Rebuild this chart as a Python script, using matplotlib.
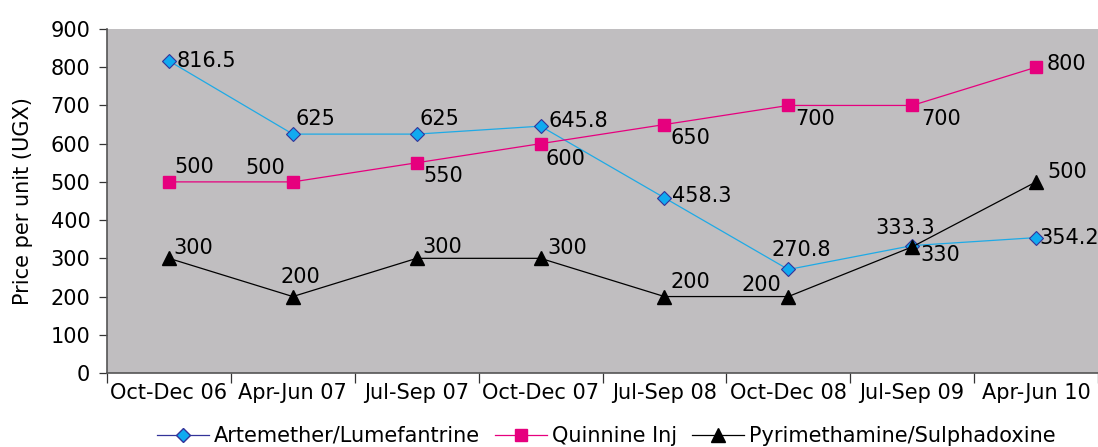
import matplotlib
matplotlib.use("Agg")
import matplotlib.pyplot as plt
from matplotlib.lines import Line2D

# data
periods = ["Oct-Dec 06", "Apr-Jun 07", "Jul-Sep 07", "Oct-Dec 07",
           "Jul-Sep 08", "Oct-Dec 08", "Jul-Sep 09", "Apr-Jun 10"]
artemether = [816.5, 625, 625, 645.8, 458.3, 270.8, 333.3, 354.2]
quinine = [500, 500, 550, 600, 650, 700, 700, 800]
pyrimethamine = [300, 200, 300, 300, 200, 200, 330, 500]

art_labels = ["816.5", "625", "625", "645.8", "458.3", "270.8", "333.3", "354.2"]
qui_labels = ["500", "500", "550", "600", "650", "700", "700", "800"]
pyr_labels = ["300", "200", "300", "300", "200", "200", "330", "500"]

# label placement: (dx px, dy px, ha, va)
art_pos = [(8, 0, "left", "center"), (3, 5, "left", "bottom"), (3, 5, "left", "bottom"),
           (8, 5, "left", "center"), (8, 2, "left", "center"), (13, 9, "center", "bottom"),
           (-7, 8, "center", "bottom"), (3, 0, "left", "center")]
qui_pos = [(5, 5, "left", "bottom"), (-8, 4, "right", "bottom"), (7, -3, "left", "top"),
           (5, -5, "left", "top"), (6, -3, "left", "top"), (7, -4, "left", "top"),
           (9, -4, "left", "top"), (11, 3, "left", "center")]
pyr_pos = [(4, 0, "left", "bottom"), (8, 10, "center", "bottom"), (6, 1, "left", "bottom"),
           (7, 0, "left", "bottom"), (6, 5, "left", "bottom"), (-7, 2, "right", "bottom"),
           (8, 2, "left", "top"), (11, 0, "left", "bottom")]

BLUE = "#1EAAE6"
BLUE_FILL = "#10AAF0"
NAVY = "#333399"
PINK = "#E6007E"
BG = "#C0BEC0"

plt.rcParams["font.family"] = ["DejaVu Sans"]
FS = 15

fig = plt.figure(figsize=(10.98, 4.47), dpi=100)
ax = fig.add_axes([107 / 1098, 1 - 373 / 447, 1 - 107 / 1098, 344 / 447])
ax.set_facecolor(BG)

x = list(range(len(periods)))
ax.plot(x, artemether, color=BLUE, lw=0.9, marker="D", ms=7.5,
        mfc=BLUE_FILL, mec=NAVY, mew=0.8, zorder=3)
ax.plot(x, quinine, color=PINK, lw=0.9, marker="s", ms=8.5,
        mfc=PINK, mec=PINK, zorder=3)
ax.plot(x, pyrimethamine, color="black", lw=0.9, marker="^", ms=10,
        mfc="black", mec="black", zorder=4)

for vals, labels, pos in [(artemether, art_labels, art_pos),
                          (quinine, qui_labels, qui_pos),
                          (pyrimethamine, pyr_labels, pyr_pos)]:
    for i, (v, lab, p) in enumerate(zip(vals, labels, pos)):
        dx, dy, ha, va = p
        ax.annotate(lab, (i, v), xytext=(dx * 0.72, dy * 0.72),
                    textcoords="offset points", ha=ha, va=va,
                    fontsize=FS, color="black", zorder=5)

ax.set_xlim(-0.5, len(periods) - 0.5)
ax.set_ylim(0, 900)
ax.set_yticks(range(0, 901, 100))
ax.set_xticks(x)
ax.set_xticklabels(periods)
ax.set_xticks([i - 0.5 for i in range(len(periods) + 1)], minor=True)
ax.tick_params(axis="x", which="major", length=0, pad=7, labelsize=FS)
ax.tick_params(axis="x", which="minor", length=7, width=0.9, color="#333333")
ax.tick_params(axis="y", length=6, width=0.9, color="#333333", pad=6, labelsize=FS)

for s in ["top", "right"]:
    ax.spines[s].set_visible(False)
for s in ["left", "bottom"]:
    ax.spines[s].set_color("#555555")
    ax.spines[s].set_linewidth(1.2)

ax.set_ylabel("Price per unit (UGX)", fontsize=FS)
ax.yaxis.set_label_coords(-0.075, 0.5)

handles = [
    Line2D([], [], color=NAVY, lw=0.9, marker="D", ms=7.5, mfc=BLUE_FILL, mec=NAVY),
    Line2D([], [], color=PINK, lw=0.9, marker="s", ms=8.5, mfc=PINK, mec=PINK),
    Line2D([], [], color="black", lw=0.9, marker="^", ms=10, mfc="black", mec="black"),
]
fig.legend(handles, ["Artemether/Lumefantrine", "Quinnine Inj", "Pyrimethamine/Sulphadoxine"],
           loc="center", bbox_to_anchor=(0.552, 0.025), ncol=3, frameon=False,
           fontsize=FS, handlelength=2.5, handletextpad=0.25, columnspacing=0.7,
           borderaxespad=0, borderpad=0)

fig.savefig("out.png", dpi=100)
